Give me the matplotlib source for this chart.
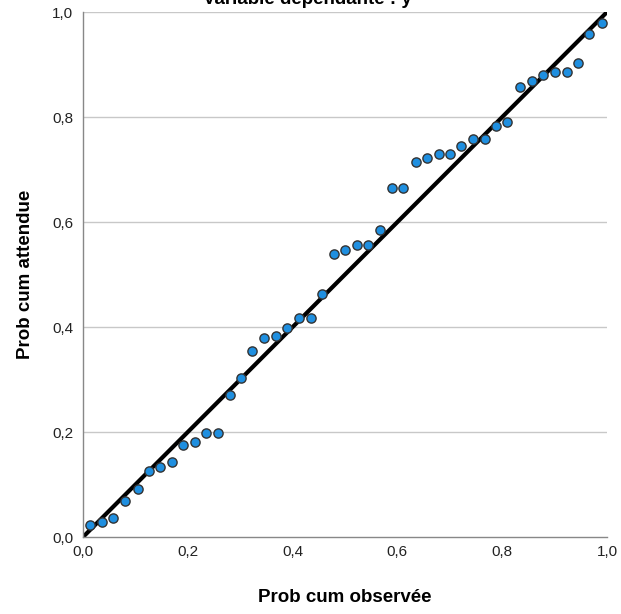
import matplotlib.pyplot as plt

# P-P plot values
prob_obs = [0.013, 0.036, 0.058, 0.081, 0.104, 0.125, 0.147, 0.169, 0.191, 0.214,
            0.235, 0.257, 0.281, 0.302, 0.323, 0.345, 0.368, 0.390, 0.412, 0.435,
            0.457, 0.479, 0.500, 0.523, 0.544, 0.567, 0.589, 0.611, 0.635, 0.657,
            0.679, 0.700, 0.722, 0.745, 0.767, 0.789, 0.810, 0.834, 0.856, 0.878,
            0.901, 0.923, 0.944, 0.966, 0.990]
prob_att = [0.023, 0.029, 0.036, 0.069, 0.091, 0.126, 0.134, 0.142, 0.175, 0.181,
            0.199, 0.199, 0.270, 0.303, 0.355, 0.380, 0.382, 0.399, 0.417, 0.418,
            0.463, 0.539, 0.547, 0.556, 0.556, 0.585, 0.664, 0.665, 0.714, 0.722,
            0.729, 0.729, 0.745, 0.759, 0.758, 0.783, 0.790, 0.857, 0.868, 0.880,
            0.885, 0.885, 0.903, 0.958, 0.980]
ticks = [0.0, 0.2, 0.4, 0.6, 0.8, 1.0]
tick_labels = ["0,0", "0,2", "0,4", "0,6", "0,8", "1,0"]

plt.rcParams['font.family'] = ['Liberation Sans', 'DejaVu Sans']

fig = plt.figure(figsize=(6.21, 6.14), dpi=100)
ax = fig.add_axes([0.1337, 0.1254, 0.8438, 0.855])

for t in ticks[1:]:
    ax.axhline(t, color='#c8c8c8', lw=1, zorder=0)

ax.plot([0, 1], [0, 1], color='black', lw=3, zorder=2, solid_capstyle='butt')
ax.scatter(prob_obs, prob_att, s=44, color='#1f8fe0', edgecolors='#333333',
           linewidths=1, zorder=3)

ax.set_xlim(0, 1)
ax.set_ylim(0, 1)
ax.set_xticks(ticks)
ax.set_xticklabels(tick_labels)
ax.set_yticks(ticks)
ax.set_yticklabels(tick_labels)
ax.tick_params(length=0, labelsize=11, labelcolor='#222222')
ax.tick_params(axis='x', pad=6)
ax.tick_params(axis='y', pad=7)

for s in ['top', 'right']:
    ax.spines[s].set_visible(False)
for s in ['left', 'bottom']:
    ax.spines[s].set_color('#888888')
    ax.spines[s].set_linewidth(1)

ax.set_xlabel("Prob cum observée", fontsize=13.5, fontweight='bold', labelpad=21)
ax.set_ylabel("Prob cum attendue", fontsize=13.5, fontweight='bold', labelpad=13)
fig.text(0.495, 0.993, "Variable dépendante : y", ha='center', va='baseline',
         fontsize=13.5, fontweight='bold')

fig.savefig("out.png", dpi=100)
